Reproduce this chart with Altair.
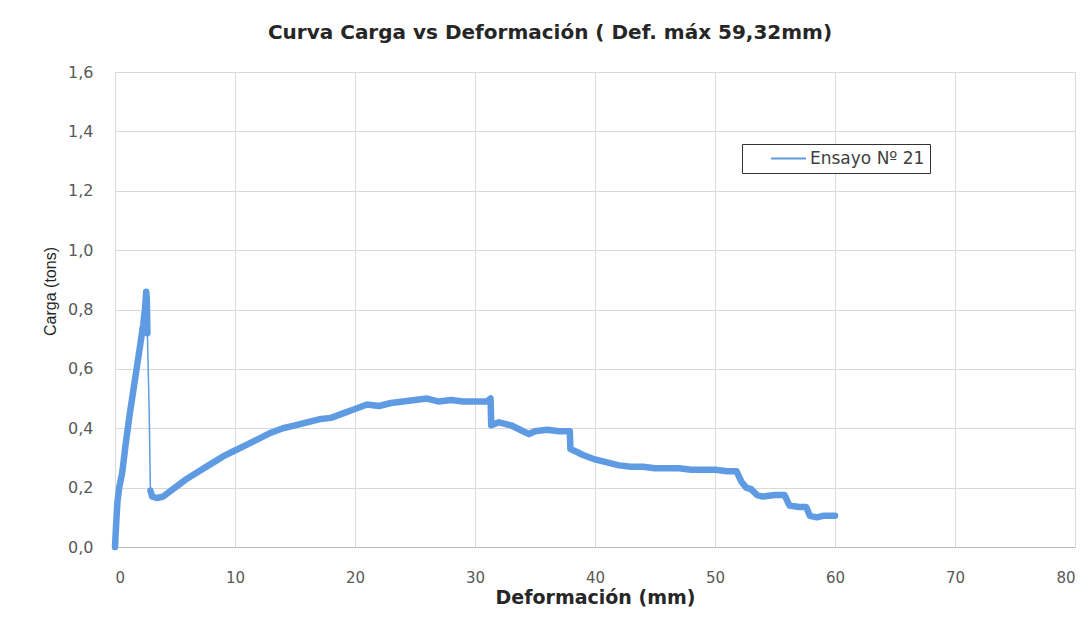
import altair as alt
import pandas as pd

# Rising branch (thick)
x_rise = [0.0, 0.1, 0.2, 0.35, 0.6, 0.9, 1.2, 1.5, 1.8, 2.1, 2.35, 2.5, 2.6, 2.65, 2.7]
y_rise = [0.00, 0.08, 0.15, 0.20, 0.25, 0.35, 0.44, 0.52, 0.60, 0.68, 0.75, 0.80, 0.86, 0.84, 0.72]

# Sudden drop after peak (thin)
x_drop = [2.7, 2.85, 2.95]
y_drop = [0.72, 0.45, 0.19]

# Post-peak branch (thick)
x_post = [2.95, 3.1, 3.5, 4.0, 4.5, 5.0, 5.5, 6.0, 7.0, 8.0, 9.0, 10.0, 11.0, 12.0, 13.0,
          14.0, 15.0, 16.0, 17.0, 18.0, 19.0, 20.0, 21.0, 22.0, 23.0, 24.0, 25.0, 26.0,
          27.0, 28.0, 29.0, 30.0, 31.0, 31.3, 31.35, 32.0, 33.0, 34.0, 34.5, 35.0, 36.0,
          37.0, 37.9, 37.95, 38.5, 39.0, 40.0, 41.0, 42.0, 43.0, 44.0, 45.0, 46.0, 47.0,
          48.0, 49.0, 50.0, 51.0, 51.8, 52.2, 52.6, 53.0, 53.5, 54.0, 55.0, 55.8, 56.2,
          57.0, 57.6, 57.9, 58.5, 59.0, 60.0]
y_post = [0.19, 0.17, 0.165, 0.17, 0.185, 0.20, 0.215, 0.23, 0.255, 0.28, 0.305, 0.325,
          0.345, 0.365, 0.385, 0.40, 0.41, 0.42, 0.43, 0.435, 0.45, 0.465, 0.48, 0.475,
          0.485, 0.49, 0.495, 0.50, 0.49, 0.495, 0.49, 0.49, 0.49, 0.50, 0.41, 0.42, 0.41,
          0.39, 0.38, 0.39, 0.395, 0.39, 0.39, 0.33, 0.32, 0.31, 0.295, 0.285, 0.275, 0.27,
          0.27, 0.265, 0.265, 0.265, 0.26, 0.26, 0.26, 0.255, 0.255, 0.22, 0.20, 0.195,
          0.175, 0.17, 0.175, 0.175, 0.14, 0.135, 0.135, 0.105, 0.10, 0.105, 0.105]

x_ticks = [0, 10, 20, 30, 40, 50, 60, 70, 80]
y_ticks = [0.0, 0.2, 0.4, 0.6, 0.8, 1.0, 1.2, 1.4, 1.6]

series_name = "Ensayo Nº 21"

rows = []
i = 0
for part, xs, ys in [("a", x_rise, y_rise), ("b", x_drop, y_drop), ("c", x_post, y_post)]:
    for x, y in zip(xs, ys):
        rows.append({"x": x, "y": y, "part": part, "i": i, "serie": series_name})
        i += 1
df = pd.DataFrame(rows)

blue = "#5f9be3"
grid = "#d9d9d9"

chart = alt.Chart(df).mark_line(strokeJoin="round", strokeCap="round").encode(
    x=alt.X("x:Q",
            scale=alt.Scale(domain=[0, 80], nice=False, zero=True),
            axis=alt.Axis(values=x_ticks, title="Deformación (mm)", ticks=False,
                          labelPadding=23, labelFont="DejaVu Sans", labelFontSize=15,
                          labelColor="#595959", titleFont="DejaVu Sans", titleFontSize=19,
                          titleFontWeight="bold", titleColor="#262626", titlePadding=3,
                          gridColor=grid, domainColor="#bfbfbf")),
    y=alt.Y("y:Q",
            scale=alt.Scale(domain=[0, 1.6], nice=False),
            axis=alt.Axis(values=y_ticks, title="Carga (tons)", ticks=False,
                          labelExpr="replace(format(datum.value, '.1f'), '.', ',')",
                          labelPadding=22, labelFont="DejaVu Sans", labelFontSize=16,
                          labelColor="#595959", titleFont="Liberation Sans", titleFontSize=16,
                          titleFontWeight="normal", titleColor="#262626", titlePadding=9,
                          titleY=219, gridColor=grid, domain=False)),
    color=alt.Color("serie:N", scale=alt.Scale(range=[blue]),
                    legend=alt.Legend(title=None, orient="none", legendX=627, legendY=72,
                                      strokeColor="#333333", padding=5, symbolType="stroke",
                                      symbolStrokeWidth=2, symbolSize=1225, symbolOffset=23,
                                      clipHeight=19, labelOffset=3,
                                      labelFont="DejaVu Sans", labelFontSize=17,
                                      labelColor="#404040", fillColor="white")),
    strokeWidth=alt.condition("datum.part == 'b'", alt.value(1.5), alt.value(6.5)),
    detail="part:N",
    order="i:Q",
).properties(
    width=960,
    height=475,
    autosize=alt.AutoSizeParams(type="none"),
    padding={"left": 107, "top": 64, "right": 8, "bottom": 64},
    title=alt.Title("Curva Carga vs Deformación ( Def. máx 59,32mm)", font="DejaVu Sans",
                    fontSize=20, fontWeight="bold", color="#262626", offset=21, dx=-45,
                    anchor="middle"),
).configure_view(stroke=None).configure(background="white")

chart.save("out.html", embed_options={"renderer": "svg", "actions": False})
